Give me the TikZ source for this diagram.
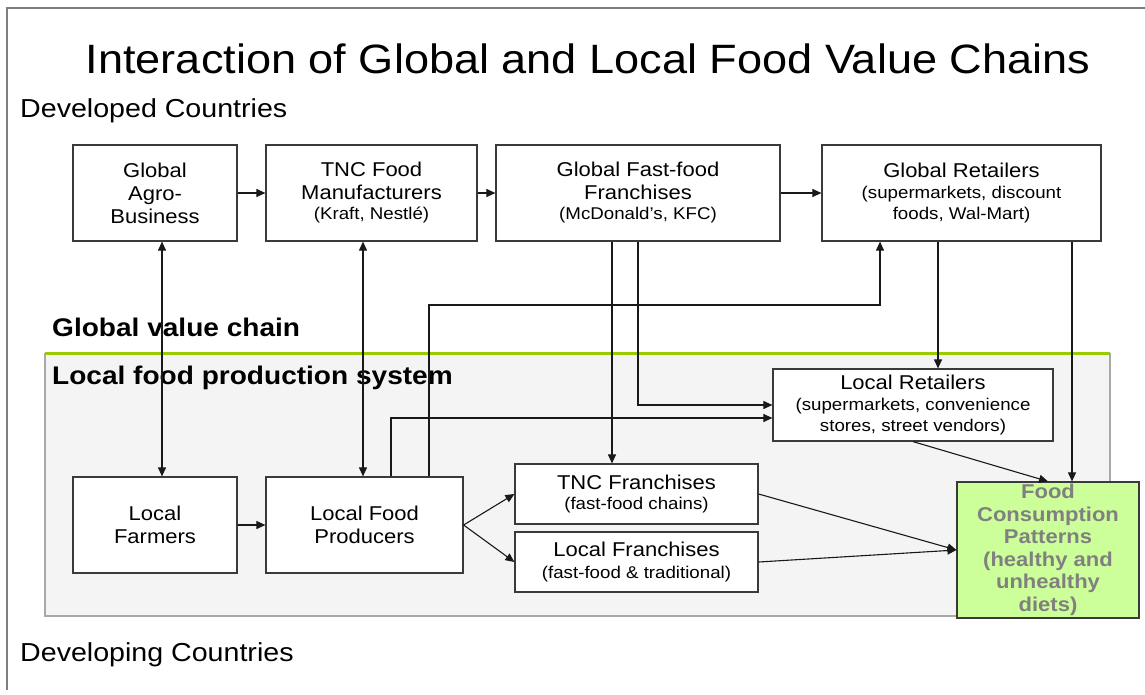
\documentclass[tikz,border=0pt]{standalone}
\usepackage{fontspec}
\setmainfont{Liberation Sans}[FakeStretch=1.1]
\usetikzlibrary{arrows.meta}
\definecolor{framegray}{HTML}{7F7F7F}
\definecolor{boxline}{HTML}{3A3A3A}
\definecolor{zonefill}{HTML}{F4F4F4}
\definecolor{zoneline}{HTML}{A8A8A8}
\definecolor{zonegreen}{HTML}{99CC00}
\definecolor{consfill}{HTML}{CCFF99}
\definecolor{constext}{HTML}{808080}
\newcommand{\mainsz}{\fontsize{20}{23}\selectfont}
\newcommand{\subsz}{\fontsize{17}{20}\selectfont}
\tikzset{
  box/.style={draw=boxline, line width=1.2pt, fill=white, rectangle, inner sep=0pt,
    align=center, font=\mainsz},
  arr/.style={draw=black!90, line width=1.1pt, -{Triangle[length=9pt,width=8pt]}},
  darr/.style={draw=black!90, line width=1.1pt, {Triangle[length=9pt,width=8pt]}-{Triangle[length=9pt,width=8pt]}},
  heading/.style={anchor=base west, inner sep=0pt, font=\fontsize{26}{26}\selectfont},
  zonelabel/.style={anchor=base west, inner sep=0pt, font=\fontsize{25.5}{26}\selectfont\bfseries},
}
\begin{document}
\begin{tikzpicture}[x=1pt, y=-1pt]
  \useasboundingbox (0,0) rectangle (1145,694);
  \fill[white] (0,0) rectangle (1145,694);

  % page frame (top and left edges)
  \draw[framegray, line width=1.4pt] (1145,8) -- (7,8) -- (7,690);

  % titles
  \node[anchor=base, inner sep=0pt, font=\fontsize{41}{41}\selectfont] (title) at (588,73)
    {Interaction of Global and Local Food Value Chains};
  \node[heading] (developed) at (20,117) {Developed Countries};
  \node[heading] (developing) at (20,661) {Developing Countries};

  % local production zone
  \fill[zonefill] (45,353) rectangle (1110,616);
  \draw[zoneline, line width=1.2pt] (1110,353) -- (1110,616) -- (45,616) -- (45,353);
  \draw[zonegreen, line width=3pt] (45,353) -- (1110,353);
  \node[zonelabel] (gvc) at (52,336) {Global value chain};
  \node[zonelabel] (lfps) at (52,384) {Local food production system};

  % global chain boxes
  \node[box, minimum width=164pt, minimum height=96pt] (GA) at (155,193)
    {\fontsize{20}{21.5}\selectfont Global\\Agro-\\Business};
  \node[box, minimum width=211pt, minimum height=96pt] (TM) at (371.5,193)
    {TNC Food\\Manufacturers\\[-3pt]{\subsz (Kraft, Nestlé)}};
  \node[box, minimum width=284pt, minimum height=96pt] (GF) at (638,193)
    {Global Fast-food\\Franchises\\[-3pt]{\subsz (McDonald’s, KFC)}};
  \node[box, minimum width=279pt, minimum height=96pt] (GR) at (961.5,193)
    {Global Retailers\\[-2pt]{\subsz (supermarkets, discount}\\[-2pt]{\subsz foods, Wal-Mart)}};

  % local system boxes
  \node[box, minimum width=164pt, minimum height=96pt] (LF) at (155,525)
    {Local\\Farmers};
  \node[box, minimum width=197pt, minimum height=96pt] (LP) at (364.5,525)
    {Local Food\\Producers};
  \node[box, minimum width=243pt, minimum height=60pt] (TF) at (636.5,494)
    {TNC Franchises\\[-3pt]{\subsz (fast-food chains)}};
  \node[box, minimum width=243pt, minimum height=60pt] (LFr) at (636.5,562)
    {Local Franchises\\[-1pt]{\subsz (fast-food \& traditional)}};
  \node[box, minimum width=280pt, minimum height=72pt] (LR) at (913,405)
    {Local Retailers\\[-2pt]{\subsz (supermarkets, convenience}\\[-2pt]{\subsz stores, street vendors)}};
  \node[box, fill=consfill, minimum width=182pt, minimum height=136pt,
        font=\fontsize{20}{22.5}\selectfont\bfseries, text=constext] (FC) at (1048,550)
    {Food\\Consumption\\Patterns\\(healthy and\\unhealthy\\diets)};

  % columns used by the vertical connectors
  \coordinate (x162) at (162,0);
  \coordinate (x363) at (363,0);
  \coordinate (x391) at (391,0);
  \coordinate (x429) at (429,0);
  \coordinate (x612) at (612,0);
  \coordinate (x638) at (638,0);
  \coordinate (x938) at (938,0);
  \coordinate (x1072) at (1072,0);
  \coordinate (bend) at (880,305);

  % global chain flow
  \draw[arr] (GA.east) -- (TM.west);
  \draw[arr] (TM.east) -- (GF.west);
  \draw[arr] (GF.east) -- (GR.west);

  % links between the two levels
  \draw[darr] (GA.south -| x162) -- (LF.north -| x162);
  \draw[darr] (TM.south -| x363) -- (LP.north -| x363);
  \draw[arr] (LP.north -| x429) |- (bend) -- (GR.south -| bend);
  \draw[arr] (LP.north -| x391) |- ([yshift=-13pt]LR.west);
  \draw[arr] (GF.south -| x612) -- (TF.north -| x612);
  \draw[arr] (GF.south -| x638) |- (LR.west);
  \draw[arr] (GR.south -| x938) -- (LR.north -| x938);
  \draw[arr] (GR.south -| x1072) -- (FC.north -| x1072);

  % local flow
  \draw[arr] (LF.east) -- (LP.west);
  \draw[arr] (LP.east) -- (TF.west);
  \draw[arr] (LP.east) -- (LFr.west);
  \draw[arr] (LR.south) -- (FC.north);
  \draw[arr] (TF.east) -- (FC.west);
  \draw[arr] (LFr.east) -- (FC.west);
\end{tikzpicture}
\end{document}
